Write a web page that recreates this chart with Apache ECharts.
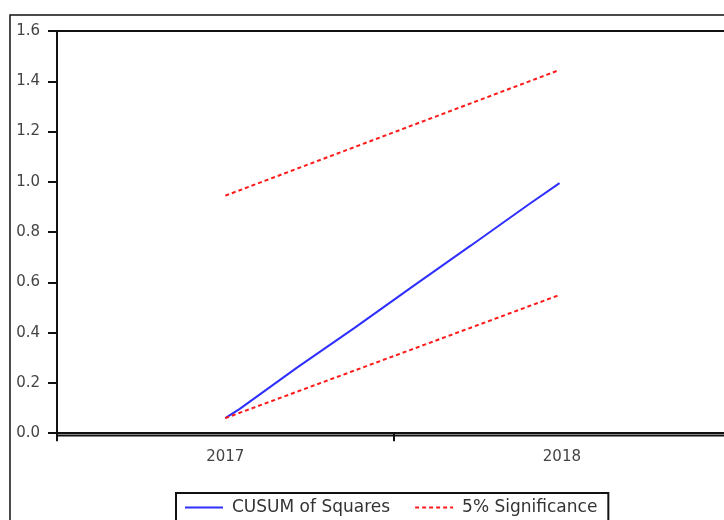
<!DOCTYPE html>
<html>
<head>
<meta charset="utf-8">
<script src="https://cdn.jsdelivr.net/npm/echarts@6/dist/echarts.min.js"></script>
<style>
  html, body { margin: 0; padding: 0; background: #fff; }
  #plot { width: 724px; height: 520px; }
</style>
</head>
<body>
<div id="plot"></div>
<script>
// 年份标签 (x 轴)
var years = [2017, 2018];
var yTicks = [0, 0.2, 0.4, 0.6, 0.8, 1.0, 1.2, 1.4, 1.6];

// CUSUM of Squares 曲线 (x 为小数年份)
var cusumX = [2017.500, 2017.543, 2017.712, 2017.884, 2018.056, 2018.231, 2018.398, 2018.493];
var cusumY = [0.060, 0.097, 0.260, 0.419, 0.583, 0.748, 0.907, 0.995];

// 5% 显著性边界
var boundX = [2017.500, 2018.493];
var upperY = [0.945, 1.445];
var lowerY = [0.060, 0.550];

function pairs(xs, ys) {
  return xs.map(function (x, i) { return [x, ys[i]]; });
}

var myChart = echarts.init(document.getElementById('plot'));

var labelFont = {
  fontFamily: 'DejaVu Sans',
  fontSize: 15,
  color: '#444'
};

var option = {
  animation: false,
  backgroundColor: '#fff',
  graphic: [{
    type: 'rect',
    shape: { x: 10, y: 15, width: 800, height: 600 },
    style: { fill: 'none', stroke: '#111', lineWidth: 1.5 },
    silent: true
  }],
  grid: {
    left: 57,
    top: 31,
    width: 690,   // 右边超出画布
    bottom: 84.5,
    outerBoundsMode: 'none',
    containLabel: false,
    show: true,
    borderColor: '#111',
    borderWidth: 2
  },
  xAxis: {
    type: 'value',
    min: 2017,
    max: 2019.05,
    splitLine: { show: false },
    axisLine: { lineStyle: { color: '#111', width: 2 } },
    axisTick: {
      customValues: [2017, 2018, 2019],
      length: 8,
      lineStyle: { color: '#111', width: 2 }
    },
    axisLabel: Object.assign({
      customValues: years.map(function (y) { return y + 0.5; }),
      margin: 14,
      formatter: function (v) { return String(Math.floor(v)); }
    }, labelFont)
  },
  yAxis: {
    type: 'value',
    min: -0.009,
    max: 1.6,
    splitLine: { show: false },
    axisLine: { show: true, lineStyle: { color: '#111', width: 2 } },
    axisTick: {
      customValues: yTicks,
      length: 9,
      lineStyle: { color: '#111', width: 2 }
    },
    axisLabel: Object.assign({
      customValues: yTicks,
      margin: 17,
      formatter: function (v) { return v.toFixed(1); }
    }, labelFont)
  },
  legend: {
    left: 176,
    top: 493,
    orient: 'horizontal',
    borderColor: '#111',
    borderWidth: 2,
    borderRadius: 0,
    padding: [6, 11, 6, 8],
    itemWidth: 38,
    itemHeight: 14,
    itemGap: 24,
    itemStyle: { opacity: 0 },
    textStyle: {
      fontFamily: 'DejaVu Sans',
      fontSize: 17,
      color: '#333',
      padding: [0, 0, 0, 4]
    },
    data: ['CUSUM of Squares', '5% Significance']
  },
  series: [{
    name: 'CUSUM of Squares',
    type: 'line',
    symbol: 'none',
    data: pairs(cusumX, cusumY),
    lineStyle: { color: '#2f2fff', width: 2 },
    itemStyle: { color: '#2f2fff' }
  }, {
    name: '5% Significance',
    type: 'line',
    symbol: 'none',
    data: pairs(boundX, upperY),
    lineStyle: { color: '#ff1a1a', width: 2, type: [4, 3] },
    itemStyle: { color: '#ff1a1a' }
  }, {
    name: '5% Significance',
    type: 'line',
    symbol: 'none',
    data: pairs(boundX, lowerY),
    lineStyle: { color: '#ff1a1a', width: 2, type: [4, 3] },
    itemStyle: { color: '#ff1a1a' }
  }]
};

myChart.setOption(option);
</script>
</body>
</html>
